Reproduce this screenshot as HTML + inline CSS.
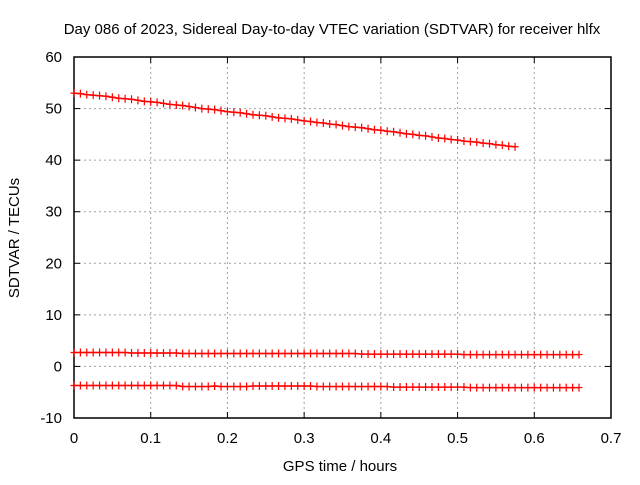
<!DOCTYPE html>
<html><head><meta charset="utf-8"><style>
body{margin:0;background:#fff;font-family:"Liberation Sans",sans-serif;}
svg text{font-family:"Liberation Sans",sans-serif;font-size:15px;fill:#000;}
</style></head><body>
<svg id="chart" width="640" height="480" xmlns="http://www.w3.org/2000/svg">
<text x="332" y="34" text-anchor="middle">Day 086 of 2023, Sidereal Day-to-day VTEC variation (SDTVAR) for receiver hlfx</text>
<text x="340" y="471" text-anchor="middle">GPS time / hours</text>
<text transform="translate(19,238) rotate(-90)" text-anchor="middle">SDTVAR / TECUs</text>
<g id="grid"></g><g id="axes"></g><g id="series"></g>
</svg>
<script>
const xTicks=[0,0.1,0.2,0.3,0.4,0.5,0.6,0.7];
const xTickLabels=["0","0.1","0.2","0.3","0.4","0.5","0.6","0.7"];
const yTicks=[-10,0,10,20,30,40,50,60];
const yTickLabels=["-10","0","10","20","30","40","50","60"];
const sampleStep=0.008333;
const seriesTop=[53.0,52.9,52.7,52.6,52.5,52.4,52.2,52.0,51.9,51.8,51.6,51.4,51.3,51.2,51.0,50.8,50.7,50.6,50.4,50.2,50.0,49.9,49.8,49.6,49.4,49.3,49.2,49.0,48.8,48.7,48.6,48.4,48.2,48.1,48.0,47.8,47.6,47.5,47.3,47.2,47.0,46.9,46.7,46.5,46.4,46.3,46.1,45.9,45.8,45.6,45.5,45.3,45.1,45.0,44.8,44.7,44.5,44.3,44.2,44.0,43.9,43.7,43.6,43.5,43.3,43.2,43.0,42.9,42.7,42.6];
const seriesMid=[2.7,2.7,2.7,2.7,2.7,2.7,2.7,2.7,2.7,2.6,2.6,2.6,2.6,2.6,2.6,2.6,2.6,2.5,2.5,2.5,2.5,2.5,2.5,2.5,2.5,2.5,2.5,2.5,2.5,2.5,2.5,2.5,2.5,2.5,2.5,2.5,2.5,2.5,2.5,2.5,2.5,2.5,2.5,2.5,2.5,2.4,2.4,2.4,2.4,2.4,2.4,2.4,2.4,2.4,2.4,2.4,2.4,2.4,2.4,2.4,2.4,2.3,2.3,2.3,2.3,2.3,2.3,2.3,2.3,2.3,2.3,2.3,2.3,2.3,2.3,2.3,2.3,2.3,2.3,2.3];
const seriesBot=[-3.7,-3.7,-3.7,-3.7,-3.7,-3.7,-3.7,-3.7,-3.7,-3.7,-3.7,-3.7,-3.7,-3.7,-3.7,-3.7,-3.7,-3.9,-3.9,-3.9,-3.9,-3.9,-3.8,-3.9,-3.9,-3.9,-3.9,-3.9,-3.8,-3.8,-3.8,-3.8,-3.8,-3.8,-3.8,-3.8,-3.8,-3.8,-3.9,-3.9,-3.9,-3.9,-3.9,-3.9,-3.9,-3.9,-3.9,-3.9,-3.9,-3.9,-4.0,-4.0,-4.0,-4.0,-4.0,-4.0,-4.0,-4.0,-4.0,-4.0,-4.0,-4.0,-4.1,-4.1,-4.1,-4.1,-4.1,-4.1,-4.1,-4.1,-4.1,-4.1,-4.1,-4.1,-4.1,-4.1,-4.1,-4.1,-4.1,-4.1];
const L=74,R=611,T=57,B=418;
const xs=v=>L+(v-0)/(0.7)*(R-L);
const ys=v=>B-(v+10)/70*(B-T);
const NS="http://www.w3.org/2000/svg";
function mk(tag,attrs,parent){const e=document.createElementNS(NS,tag);for(const k in attrs)e.setAttribute(k,attrs[k]);parent.appendChild(e);return e;}
const grid=document.getElementById('grid'),axes=document.getElementById('axes'),ser=document.getElementById('series');
xTicks.forEach((t,i)=>{const x=xs(t);
 if(i>0&&i<xTicks.length-1){const g=mk('line',{x1:x,x2:x,y1:T,y2:B,stroke:'#a0a0a0','stroke-dasharray':'2,3'},grid);}
 const tk=mk('line',{x1:x,x2:x,y1:B,y2:B-6,stroke:'#000'},axes);
 const tk2=mk('line',{x1:x,x2:x,y1:T,y2:T+6,stroke:'#000'},axes);
 const tx=mk('text',{x:x,y:443,'text-anchor':'middle'},axes);tx.textContent=xTickLabels[i];});
yTicks.forEach((t,i)=>{const y=ys(t);
 if(i>0&&i<yTicks.length-1){const g=mk('line',{x1:L,x2:R,y1:y,y2:y,stroke:'#a0a0a0','stroke-dasharray':'2,3'},grid);}
 const tk=mk('line',{x1:L,x2:L+6,y1:y,y2:y,stroke:'#000'},axes);
 const tk2=mk('line',{x1:R,x2:R-6,y1:y,y2:y,stroke:'#000'},axes);
 const tx=mk('text',{x:L-12,y:y+5,'text-anchor':'end'},axes);tx.textContent=yTickLabels[i];});
const frame=mk('rect',{x:L,y:T,width:R-L,height:B-T,fill:'none',stroke:'#000','stroke-width':1.5},axes);

[[seriesTop,'series-top'],[seriesMid,'series-middle'],[seriesBot,'series-bottom']].forEach(([arr,name])=>{
 const g=mk('g',{},ser);
 const pts=arr.map((v,i)=>xs(i*sampleStep).toFixed(1)+','+ys(v).toFixed(1)).join(' ');
 const pl=mk('polyline',{points:pts,fill:'none',stroke:'#f00','stroke-width':1.5},g);
 
 arr.forEach((v,i)=>{const x=xs(i*sampleStep),y=ys(v);
  const p=mk('path',{d:`M${x-3.5},${y}h7M${x},${y-4}v8`,stroke:'#f00','stroke-width':1.2},g);
  });
});
</script>
</body></html>
